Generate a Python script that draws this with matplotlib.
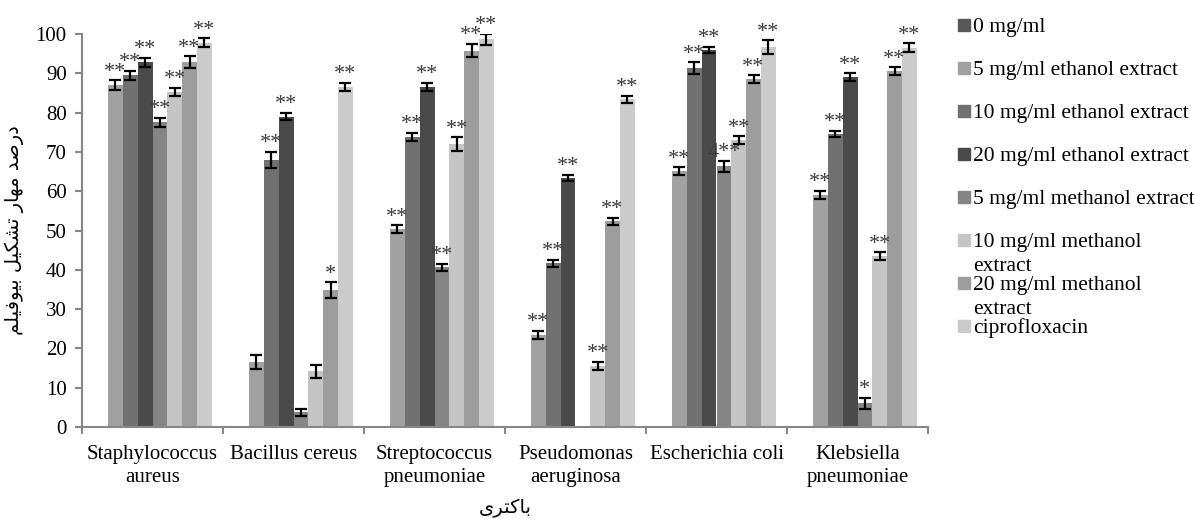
import matplotlib
matplotlib.use("Agg")
import matplotlib.pyplot as plt
import numpy as np
from matplotlib.patches import Rectangle

categories = ["Staphylococcus\naureus", "Bacillus cereus", "Streptococcus\npneumoniae",
              "Pseudomonas\naeruginosa", "Escherichia coli", "Klebsiella\npneumoniae"]
series_labels = ["0 mg/ml", "5 mg/ml ethanol extract", "10 mg/ml ethanol extract",
                 "20 mg/ml ethanol extract", "5 mg/ml methanol extract",
                 "10 mg/ml methanol\nextract", "20 mg/ml methanol\nextract", "ciprofloxacin"]
colors = ["#585858", "#a1a1a1", "#717171", "#4a4a4a", "#858585", "#c5c5c5", "#9d9d9d", "#cbcbcb"]

# values[series][category]
values = [
    [0, 0, 0, 0, 0, 0],
    [87.0, 16.5, 50.3, 23.5, 65.1, 59.1],
    [89.5, 68.0, 73.8, 41.7, 91.3, 74.5],
    [92.8, 79.0, 86.6, 63.3, 96.0, 89.0],
    [77.5, 3.7, 40.6, 0, 66.4, 6.0],
    [85.2, 14.2, 72.0, 15.5, 73.0, 43.5],
    [92.8, 34.8, 95.8, 52.3, 88.5, 90.5],
    [97.8, 86.5, 98.7, 83.4, 96.7, 96.5],
]
errors = [
    [0, 0, 0, 0, 0, 0],
    [1.2, 1.7, 1.0, 1.0, 1.0, 1.0],
    [1.1, 2.0, 1.1, 0.9, 1.5, 0.8],
    [1.1, 1.0, 1.0, 0.8, 0.8, 1.0],
    [1.1, 0.8, 1.0, 0, 1.4, 1.4],
    [1.1, 1.7, 1.7, 1.1, 1.0, 1.0],
    [1.5, 2.0, 1.7, 1.0, 1.0, 1.0],
    [1.1, 1.1, 1.4, 0.9, 1.7, 1.1],
]
stars = [
    ["", "", "", "", "", ""],
    ["**", "", "**", "**", "**", "**"],
    ["**", "**", "**", "**", "**", "**"],
    ["**", "**", "**", "**", "**", "**"],
    ["**", "", "**", "", "4**", "*"],
    ["**", "", "**", "**", "**", "**"],
    ["**", "*", "**", "**", "**", "**"],
    ["**", "**", "**", "**", "**", "**"],
]
yticks = list(range(0, 101, 10))
ylabel_fa = "درصد مهار تشکیل بیوفیلم"
xlabel_fa = "باکتری"

FORMS = {
    'ا': ('\uFE8D', '\uFE8E', None, None),
    'ب': ('\uFE8F', '\uFE90', '\uFE91', '\uFE92'),
    'ت': ('\uFE95', '\uFE96', '\uFE97', '\uFE98'),
    'د': ('\uFEA9', '\uFEAA', None, None),
    'ر': ('\uFEAD', '\uFEAE', None, None),
    'ش': ('\uFEB5', '\uFEB6', '\uFEB7', '\uFEB8'),
    'ص': ('\uFEB9', '\uFEBA', '\uFEBB', '\uFEBC'),
    'ف': ('\uFED1', '\uFED2', '\uFED3', '\uFED4'),
    'ک': ('\uFB8E', '\uFB8F', '\uFB90', '\uFB91'),
    'ل': ('\uFEDD', '\uFEDE', '\uFEDF', '\uFEE0'),
    'م': ('\uFEE1', '\uFEE2', '\uFEE3', '\uFEE4'),
    'ه': ('\uFEE9', '\uFEEA', '\uFEEB', '\uFEEC'),
    'و': ('\uFEED', '\uFEEE', None, None),
    'ی': ('\uFBFC', '\uFBFD', '\uFBFE', '\uFBFF'),
}


def shape(s):
    out = []
    for i, c in enumerate(s):
        if c not in FORMS:
            out.append(c)
            continue
        prev = s[i - 1] if i > 0 else ''
        nxt = s[i + 1] if i + 1 < len(s) else ''
        jp = prev in FORMS and FORMS[prev][2] is not None
        jn = nxt in FORMS and FORMS[c][2] is not None
        iso, fin, ini, med = FORMS[c]
        if jp and jn:
            out.append(med)
        elif jp:
            out.append(fin)
        elif jn:
            out.append(ini)
        else:
            out.append(iso)
    return ''.join(reversed(out))


plt.rcParams['font.family'] = ['Liberation Serif', 'DejaVu Sans']

fig = plt.figure(figsize=(11.94, 5.19), dpi=100)
ax = fig.add_axes([82 / 1194, 1 - 427 / 519, (928 - 82) / 1194, (427 - 34) / 519])

n = len(series_labels)
w = 0.105
x = np.arange(len(categories))
gray = "#878787"
for i in range(n):
    pos = x + (i - (n - 1) / 2) * w
    ax.bar(pos, values[i], width=w, color=colors[i], linewidth=0, zorder=2)
    for j in range(len(categories)):
        if errors[i][j] > 0:
            ax.errorbar(pos[j], values[i][j], yerr=errors[i][j], fmt='none',
                        ecolor='black', elinewidth=1.6, capsize=4.5, capthick=1.6, zorder=3)
        if stars[i][j]:
            ax.annotate(stars[i][j], (pos[j], values[i][j] + errors[i][j]),
                        xytext=(0, -1), textcoords='offset points', ha='center', va='bottom',
                        fontsize=16, color='#3a3a3a', annotation_clip=False)

ax.set_xlim(-0.5, len(categories) - 0.5)
ax.set_ylim(0, 100)
ax.set_yticks(yticks)
ax.set_xticks(x)
ax.set_xticklabels(categories, fontsize=15, linespacing=1.25)
ax.set_xticks(np.arange(len(categories) + 1) - 0.5, minor=True)
ax.tick_params(axis='x', which='major', length=0, pad=13)
ax.tick_params(axis='x', which='minor', length=5, width=1.5, color=gray, direction='out')
ax.tick_params(axis='y', length=5, width=1.5, color=gray, labelsize=15, pad=6)
for s in ['top', 'right']:
    ax.spines[s].set_visible(False)
for s in ['left', 'bottom']:
    ax.spines[s].set_color(gray)
    ax.spines[s].set_linewidth(1.5)

fig.text(505 / 1194, 1 - 508 / 519, shape(xlabel_fa), ha='center', va='center',
         fontsize=14, family=['DejaVu Sans'])
fig.text(14 / 1194, 1 - 230 / 519, ' '.join(shape(wd) for wd in reversed(ylabel_fa.split(' '))),
         ha='center', va='center', rotation=90, fontsize=14, family=['DejaVu Sans'])

# legend
for i, lab in enumerate(series_labels):
    yc = 25 + 43 * i
    fig.patches.append(Rectangle((958 / 1194, 1 - (yc + 6) / 519), 12 / 1194, 12 / 519,
                                 transform=fig.transFigure, color=colors[i], figure=fig))
    lines = lab.split("\n")
    for k, ln in enumerate(lines):
        fig.text(973 / 1194, 1 - (yc + 24 * k) / 519, ln, ha='left', va='center_baseline',
                 fontsize=15.5)

fig.savefig("out.png", dpi=100)
